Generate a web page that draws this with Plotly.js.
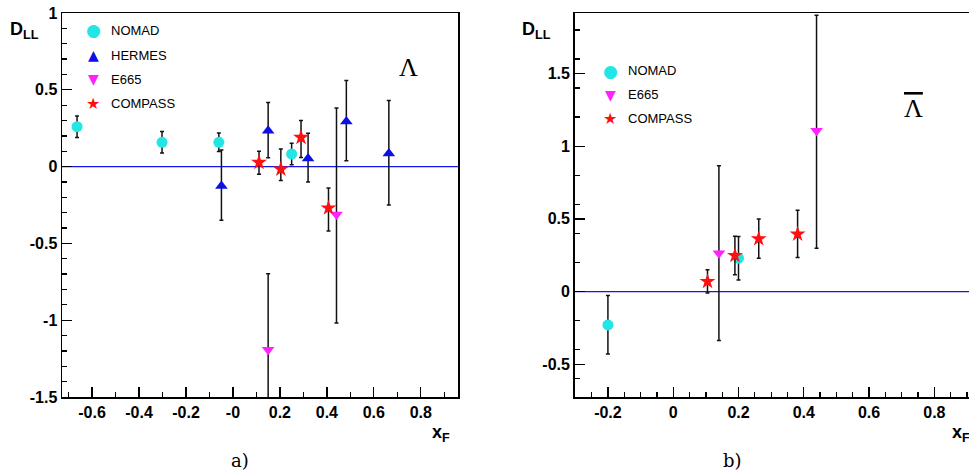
<!DOCTYPE html>
<html><head><meta charset="utf-8">
<script src="https://cdn.plot.ly/plotly-3.0.1.min.js"></script>
<style>body{margin:0;background:#fff}#c{width:969px;height:474px}</style>
</head><body><div id="c"></div>
<script>
// Panel a) Lambda
const aNomadX=[-0.664,-0.302,-0.06,0.25], aNomadY=[0.26,0.158,0.158,0.082], aNomadUp=[0.07,0.07,0.06,0.07], aNomadDn=[0.07,0.07,0.06,0.07];
const aHermesX=[-0.049,0.15,0.32,0.483,0.664], aHermesY=[-0.126,0.233,0.053,0.294,0.086], aHermesUp=[0.234,0.185,0.164,0.266,0.344], aHermesDn=[0.224,0.175,0.153,0.256,0.336];
const aE665X=[0.15,0.441], aE665Y=[-1.193,-0.312], aE665Up=[0.496,0.693], aE665Dn=[0.5,0.706];
const aCompX=[0.111,0.204,0.29,0.407], aCompY=[0.027,-0.017,0.19,-0.27], aCompUp=[0.073,0.132,0.11,0.13], aCompDn=[0.077,0.073,0.13,0.15];
// Panel b) anti-Lambda
const bNomadX=[-0.2,0.2], bNomadY=[-0.229,0.23], bNomadUp=[0.202,0.148], bNomadDn=[0.2,0.15];
const bE665X=[0.14,0.439], bE665Y=[0.264,1.106], bE665Up=[0.601,0.794], bE665Dn=[0.601,0.808];
const bCompX=[0.105,0.189,0.262,0.381], bCompY=[0.069,0.248,0.363,0.395], bCompUp=[0.081,0.132,0.137,0.165], bCompDn=[0.079,0.133,0.133,0.16];
const aTickVals=[-0.6,-0.4,-0.2,0,0.2,0.4,0.6,0.8], aTickText=['-0.6','-0.4','-0.2','-0','0.2','0.4','0.6','0.8'];
const aYVals=[-1.5,-1,-0.5,0,0.5,1], aYText=['-1.5','-1','-0.5','0','0.5','1'];
const bTickVals=[-0.2,0,0.2,0.4,0.6,0.8], bTickText=['-0.2','0','0.2','0.4','0.6','0.8'];
const bYVals=[-0.5,0,0.5,1,1.5], bYText=['-0.5','0','0.5','1','1.5'];
const B=a=>a.map(s=>'<b>'+s+'</b>');

const styles={
 nomad:{symbol:'circle',color:'#22e5e5',size:11},
 hermes:{symbol:'triangle-up',color:'#0a10e6',size:11},
 e665:{symbol:'triangle-down',color:'#ff22ff',size:11},
 comp:{symbol:'star',color:'#ff1010',size:12}
};
function tr(x,y,up,dn,st,xa,ya){
 return {x:x,y:y,type:'scatter',mode:'markers',xaxis:xa,yaxis:ya,showlegend:false,
  marker:{symbol:st.symbol,color:st.color,size:st.size,line:{width:0}},
  error_y:{type:'data',symmetric:false,array:up,arrayminus:dn,color:'#111',thickness:1.5,width:2}};
}
const data=[
 tr(aNomadX,aNomadY,aNomadUp,aNomadDn,styles.nomad,'x','y'),
 tr(aHermesX,aHermesY,aHermesUp,aHermesDn,styles.hermes,'x','y'),
 tr(aE665X,aE665Y,aE665Up,aE665Dn,styles.e665,'x','y'),
 tr(aCompX,aCompY,aCompUp,aCompDn,styles.comp,'x','y'),
 tr(bNomadX,bNomadY,bNomadUp,bNomadDn,styles.nomad,'x2','y2'),
 tr(bE665X,bE665Y,bE665Up,bE665Dn,styles.e665,'x2','y2'),
 tr(bCompX,bCompY,bCompUp,bCompDn,styles.comp,'x2','y2')
];
const tf={family:'Liberation Sans, Arial',size:16,color:'#000'};
const axBase={showgrid:false,ticks:'inside',ticklen:10,tickwidth:1.3,tickcolor:'#000',showline:true,mirror:true,linecolor:'#000',linewidth:1.5,
 tickfont:tf,zeroline:false,minor:{ticks:'inside',ticklen:5,tickcolor:'#000'}};
const layout={width:969,height:474,margin:{l:0,r:0,t:13,b:77},paper_bgcolor:'#fff',plot_bgcolor:'#fff',
 xaxis:Object.assign({},axBase,{domain:[0.064,0.473],range:[-0.728,0.96],tickvals:aTickVals,ticktext:B(aTickText),anchor:'y'}),
 yaxis:Object.assign({},axBase,{domain:[0,1],range:[-1.5,1.0],tickvals:aYVals,ticktext:B(aYText),anchor:'x'}),
 xaxis2:Object.assign({},axBase,{domain:[0.593,1.0],range:[-0.302,0.906],tickvals:bTickVals,ticktext:B(bTickText),anchor:'y2'}),
 yaxis2:Object.assign({},axBase,{domain:[0,1],range:[-0.725,1.916],tickvals:bYVals,ticktext:B(bYText),anchor:'x2'}),
 shapes:[
  {type:'line',xref:'x domain',yref:'y',x0:0,x1:1,y0:0,y1:0,line:{color:'#1515ee',width:1.2},layer:'below'},
  {type:'line',xref:'x2 domain',yref:'y2',x0:0,x1:1,y0:0,y1:0,line:{color:'#1515ee',width:1.2},layer:'below'}
 ],
 annotations:[]
};
const A=layout.annotations;
function txt(x,y,t,font,xa='left'){A.push({xref:'paper',yref:'paper',x:x,y:y,text:t,showarrow:false,xanchor:xa,yanchor:'middle',font:font});}
const ax=(px)=>px/969, ay=(py)=>(474-77-py)/384;
const bold={family:'Liberation Sans, Arial',size:18,color:'#000'};
txt(ax(8),ay(30),'<b>D<sub>LL</sub></b>',bold);
txt(ax(520),ay(30),'<b>D<sub>LL</sub></b>',bold);
txt(ax(430),ay(433),'<b>x<sub>F</sub></b>',bold);
txt(ax(950),ay(433),'<b>x<sub>F</sub></b>',bold);
const serif={family:'DejaVu Serif, Liberation Serif',size:18,color:'#000'};
txt(ax(240),ay(460),'a)',serif,'center');
txt(ax(732),ay(460),'b)',serif,'center');
txt(ax(408),ay(68),'Λ',{family:'Liberation Serif',size:26,color:'#000'},'center');
txt(ax(913),ay(108),'<span style="text-decoration:overline">Λ</span>',{family:'Liberation Serif',size:26,color:'#000'},'center');
const lf={family:'Liberation Sans, Arial',size:13,color:'#000'};
function leg(px,py,sym,col,label,sz){txt(ax(px),ay(py),sym,{family:'DejaVu Sans',size:sz,color:col},'center');txt(ax(px+16),ay(py),label,lf);}
leg(93,30,'●','#22e5e5','NOMAD',17);
leg(93,55,'▲','#0a10e6','HERMES',14);
leg(93,79,'▼','#ff22ff','E665',14);
leg(93,104,'★','#ff1010','COMPASS',16);
leg(610,71,'●','#22e5e5','NOMAD',17);
leg(610,95,'▼','#ff22ff','E665',14);
leg(610,118,'★','#ff1010','COMPASS',16);
Plotly.newPlot('c',data,layout,{staticPlot:true});
</script></body></html>
